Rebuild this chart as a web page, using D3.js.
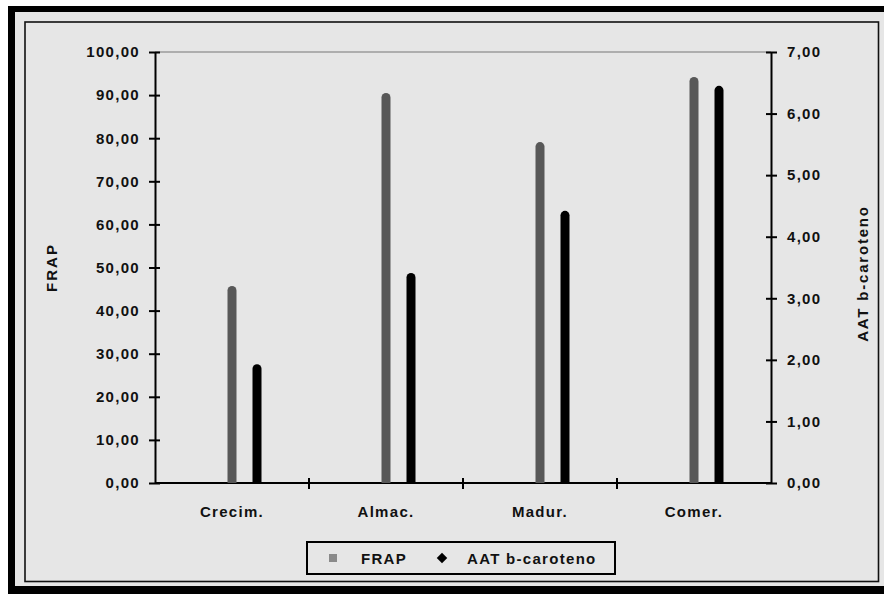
<!DOCTYPE html>
<html>
<head>
<meta charset="utf-8">
<script src="https://cdn.jsdelivr.net/npm/d3@7"></script>
<style>
  html, body {margin: 0; padding: 0; background: #fff;}
  svg {display: block;}
  text {font-family: Arial, "Liberation Sans", sans-serif; fill: #111; font-weight: bold;}
</style>
</head>
<body>
<script>
const categories = ['Crecim.', 'Almac.', 'Madur.', 'Comer.']
const frap = [45.7, 90.5, 79.1, 94.2]
const aat = [1.93, 3.41, 4.42, 6.45]
const leftTicks = [0, 10, 20, 30, 40, 50, 60, 70, 80, 90, 100]
const rightTicks = [0, 1, 2, 3, 4, 5, 6, 7]
const seriesNames = ['FRAP', 'AAT b-caroteno']

const svg = d3.select('body').append('svg')
  .attr('width', 884).attr('height', 594)

// marcos
svg.append('rect').attr('x', 0).attr('y', 0).attr('width', 884).attr('height', 594).attr('fill', '#fff')
svg.append('rect').attr('x', 8).attr('y', 6).attr('width', 890).attr('height', 600).attr('fill', '#000')
svg.append('rect').attr('x', 15).attr('y', 12).attr('width', 869).attr('height', 574).attr('fill', '#e6e6e6')
svg.append('rect').attr('x', 25).attr('y', 22).attr('width', 853.5).attr('height', 559.5)
  .attr('fill', '#e6e6e6').attr('stroke', '#111').attr('stroke-width', 1.6)

const plotL = 155, plotR = 771, plotT = 52, plotB = 483

const x = d3.scaleBand().domain(categories).range([plotL, plotR])
const y = d3.scaleLinear().domain([0, 100]).range([plotB, plotT])
const y2 = d3.scaleLinear().domain([0, 7]).range([plotB, plotT])
const fmt = v => d3.format('.2f')(v).replace('.', ',')

// linea superior del area
svg.append('line').attr('x1', plotL).attr('x2', plotR).attr('y1', plotT).attr('y2', plotT)
  .attr('stroke', '#777').attr('stroke-width', 1.2)

const fontSize = '15px', spacing = '1.3px'

const styleAxis = (g) => {
  g.select('.domain').attr('stroke', '#000').attr('stroke-width', 2)
  g.selectAll('.tick line').attr('stroke', '#000').attr('stroke-width', 2)
  g.selectAll('.tick text').attr('fill', '#111').style('font-size', fontSize)
    .style('letter-spacing', spacing)
}

const yAxis = svg.append('g').attr('transform', `translate(${plotL},0)`)
  .call(d3.axisLeft(y).tickValues(leftTicks).tickFormat(fmt).tickSize(6).tickSizeOuter(0).tickPadding(9))
styleAxis(yAxis)
yAxis.selectAll('.tick line').attr('x2', 5).attr('x1', -6)

const yAxis2 = svg.append('g').attr('transform', `translate(${plotR},0)`)
  .call(d3.axisRight(y2).tickValues(rightTicks).tickFormat(fmt).tickSize(6).tickSizeOuter(0).tickPadding(10))
styleAxis(yAxis2)
yAxis2.selectAll('.tick line').attr('x1', -5).attr('x2', 6)

// eje x con marcas entre categorias
const xAxis = svg.append('g').attr('transform', `translate(0,${plotB})`)
  .call(d3.axisBottom(x).tickSize(0).tickPadding(23))
styleAxis(xAxis)
xAxis.select('.domain').attr('d', `M${plotL},0H${plotR}`)
xAxis.selectAll('.sep').data(categories.slice(1)).enter().append('line')
  .attr('x1', d => x(d)).attr('x2', d => x(d)).attr('y1', -5).attr('y2', 6)
  .attr('stroke', '#000').attr('stroke-width', 2)

// barras con extremo redondeado
const barW = 9
const barPath = (cx, yt) => {
  const r = barW / 2
  return `M${cx - r},${plotB}V${yt + r}A${r},${r} 0 0 1 ${cx + r},${yt + r}V${plotB}Z`
}
const offFrap = 0, offAat = 25

svg.append('g').selectAll('path').data(categories).enter().append('path')
  .attr('d', (d, i) => barPath(x(d) + x.bandwidth() / 2 + offFrap, y(frap[i])))
  .attr('fill', '#585858')
svg.append('g').selectAll('path').data(categories).enter().append('path')
  .attr('d', (d, i) => barPath(x(d) + x.bandwidth() / 2 + offAat, y2(aat[i])))
  .attr('fill', '#000')

// titulos de ejes
svg.append('text').attr('transform', `translate(57,${(plotT + plotB) / 2}) rotate(-90)`)
  .attr('text-anchor', 'middle').style('font-size', fontSize).style('letter-spacing', '2px')
  .text('FRAP')
svg.append('text').attr('transform', `translate(868,${(plotT + plotB) / 2 + 6}) rotate(-90)`)
  .attr('text-anchor', 'middle').style('font-size', fontSize).style('letter-spacing', '1.8px')
  .text(seriesNames[1])

// leyenda
const lg = svg.append('g')
lg.append('rect').attr('x', 307).attr('y', 542).attr('width', 308).attr('height', 32)
  .attr('fill', '#e6e6e6').attr('stroke', '#000').attr('stroke-width', 2)
lg.append('rect').attr('x', 329).attr('y', 554).attr('width', 8).attr('height', 8).attr('fill', '#8a8a8a')
lg.append('text').attr('x', 361).attr('y', 564).style('font-size', fontSize).style('letter-spacing', spacing)
  .text(seriesNames[0])
lg.append('path').attr('d', d3.symbol(d3.symbolDiamond2, 70)()).attr('transform', 'translate(442,558)')
  .attr('fill', '#000')
lg.append('text').attr('x', 467).attr('y', 564).style('font-size', fontSize).style('letter-spacing', spacing)
  .text(seriesNames[1])
</script>
</body>
</html>
